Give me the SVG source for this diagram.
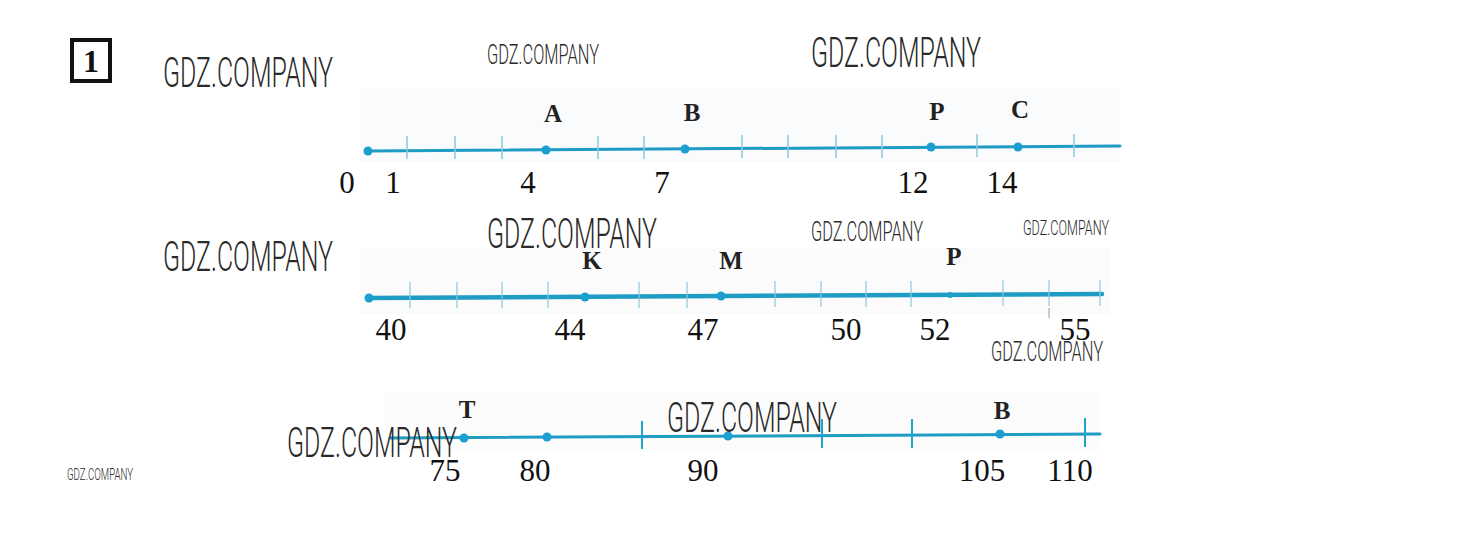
<svg xmlns="http://www.w3.org/2000/svg" width="1460" height="534" viewBox="0 0 1460 534">
<style>
.wm{font-family:Roboto,"Liberation Sans",Arial,sans-serif;fill:#2a2a2a;font-weight:300}
.num{font-family:"Liberation Serif","Times New Roman",serif;font-size:31px;fill:#111;text-anchor:middle}
.lbl{font-family:"Liberation Serif","Times New Roman",serif;font-size:25px;font-weight:bold;fill:#222;text-anchor:middle}
.axis{stroke:#1e9cc4;fill:none;stroke-linecap:round}
.tick{stroke:#8cc9dc;stroke-width:1.5}
.tick3{stroke:#1ea6c8;stroke-width:2}
.dot{fill:#1a9fd0}
</style>
<rect width="1460" height="534" fill="#fff"/>
<g id="title">
<rect x="72" y="40" width="38" height="41" fill="none" stroke="#111" stroke-width="4"/>
<text x="91" y="72" font-family="Liberation Serif,serif" font-size="32" font-weight="bold" text-anchor="middle" fill="#111">1</text>
</g>
<g id="bg">
<rect x="360" y="88" width="760" height="74" fill="#fafbfc"/>
<rect x="360" y="248" width="750" height="66" fill="#fbfbfc"/>
<rect x="385" y="392" width="715" height="60" fill="#fcfcfc"/>
</g>
<g id="connectors">
<path class="axis" d="M368,151 L1120,146" stroke-width="3"/>
<g class="tick">
<line x1="407" y1="136" x2="407" y2="159"/><line x1="455" y1="136" x2="455" y2="159"/><line x1="502" y1="136" x2="502" y2="159"/>
<line x1="598" y1="136" x2="598" y2="159"/><line x1="644" y1="136" x2="644" y2="159"/><line x1="742" y1="135" x2="742" y2="158"/>
<line x1="788" y1="135" x2="788" y2="158"/><line x1="836" y1="135" x2="836" y2="158"/><line x1="882" y1="135" x2="882" y2="158"/>
<line x1="977" y1="134" x2="977" y2="157"/><line x1="1074" y1="134" x2="1074" y2="157"/>
</g>
<path class="axis" d="M369,298 L1102,294" stroke-width="4.5"/>
<g class="tick" stroke-opacity="0.8">
<line x1="410" y1="282" x2="410" y2="308"/><line x1="457" y1="282" x2="457" y2="308"/><line x1="502" y1="282" x2="502" y2="308"/>
<line x1="548" y1="282" x2="548" y2="308"/><line x1="639" y1="282" x2="639" y2="308"/><line x1="687" y1="282" x2="687" y2="308"/>
<line x1="775" y1="281" x2="775" y2="307"/><line x1="821" y1="281" x2="821" y2="307"/><line x1="866" y1="281" x2="866" y2="307"/>
<line x1="911" y1="281" x2="911" y2="307"/><line x1="1003" y1="280" x2="1003" y2="306"/><line x1="1049" y1="280" x2="1049" y2="306"/>
<line x1="1100" y1="280" x2="1100" y2="306"/>
</g>
<line x1="1049" y1="308" x2="1049" y2="318" stroke="#999" stroke-width="1"/>
<path class="axis" d="M390,438 L1100,434" stroke-width="3"/>
<g class="tick3">
<line x1="642" y1="421" x2="642" y2="449"/><line x1="822" y1="419" x2="822" y2="448"/>
<line x1="912" y1="419" x2="912" y2="448"/><line x1="1085" y1="418" x2="1085" y2="447"/>
</g>
</g>
<g id="line1-points">
<circle class="dot" cx="368" cy="151" r="4.5"/><circle class="dot" cx="546" cy="150" r="4.5"/>
<circle class="dot" cx="685" cy="149" r="4.5"/><circle class="dot" cx="931" cy="147" r="4.5"/>
<circle class="dot" cx="1018" cy="147" r="4.5"/>
<text class="lbl" x="553" y="122">A</text><text class="lbl" x="692" y="121">B</text>
<text class="lbl" x="937" y="120" font-weight="normal">P</text><text class="lbl" x="1020" y="118" font-weight="normal">C</text>
<text class="num" x="347" y="193">0</text><text class="num" x="393" y="193">1</text>
<text class="num" x="528" y="193">4</text><text class="num" x="662" y="193">7</text>
<text class="num" x="913" y="193">12</text><text class="num" x="1002" y="193">14</text>
</g>
<g id="line2-points">
<circle class="dot" cx="369" cy="298" r="4.5"/><circle class="dot" cx="585" cy="297" r="4.5"/>
<circle class="dot" cx="721" cy="296" r="4.5"/><circle class="dot" cx="950" cy="295" r="3"/>
<text class="lbl" x="592" y="269">K</text><text class="lbl" x="731" y="269">M</text>
<text class="lbl" x="954" y="265">P</text>
<text class="num" x="391" y="340">40</text><text class="num" x="570" y="340">44</text>
<text class="num" x="703" y="340">47</text><text class="num" x="846" y="340">50</text>
<text class="num" x="935" y="340" fill="#777">52</text><text class="num" x="1075" y="340">55</text>
</g>
<g id="line3-points">
<circle class="dot" cx="464" cy="438" r="4.5"/><circle class="dot" cx="547" cy="437" r="4.5"/>
<circle class="dot" cx="728" cy="436" r="4.5"/><circle class="dot" cx="1000" cy="434" r="4.5"/>
<text class="lbl" x="467" y="418">T</text><text class="lbl" x="1002" y="419">B</text>
<text class="num" x="445" y="481">75</text><text class="num" x="535" y="481">80</text>
<text class="num" x="703" y="481">90</text><text class="num" x="982" y="481">105</text>
<text class="num" x="1070" y="481">110</text>
</g>
<g id="watermarks">
<text class="wm" x="163" y="87" font-size="43" textLength="170" lengthAdjust="spacingAndGlyphs">GDZ.COMPANY</text>
<text class="wm" x="487" y="64" font-size="28" textLength="112" lengthAdjust="spacingAndGlyphs">GDZ.COMPANY</text>
<text class="wm" x="811" y="67" font-size="43" textLength="170" lengthAdjust="spacingAndGlyphs">GDZ.COMPANY</text>
<text class="wm" x="163" y="271" font-size="43" textLength="170" lengthAdjust="spacingAndGlyphs">GDZ.COMPANY</text>
<text class="wm" x="487" y="248" font-size="43" textLength="170" lengthAdjust="spacingAndGlyphs">GDZ.COMPANY</text>
<text class="wm" x="811" y="241" font-size="28" textLength="112" lengthAdjust="spacingAndGlyphs">GDZ.COMPANY</text>
<text class="wm" x="1023" y="235" font-size="21" textLength="86" lengthAdjust="spacingAndGlyphs">GDZ.COMPANY</text>
<text class="wm" x="991" y="361" font-size="28" textLength="112" lengthAdjust="spacingAndGlyphs">GDZ.COMPANY</text>
<text class="wm" x="667" y="432" font-size="43" textLength="170" lengthAdjust="spacingAndGlyphs">GDZ.COMPANY</text>
<text class="wm" x="287" y="457" font-size="43" textLength="170" lengthAdjust="spacingAndGlyphs">GDZ.COMPANY</text>
<text class="wm" x="67" y="480" font-size="17" textLength="66" lengthAdjust="spacingAndGlyphs">GDZ.COMPANY</text>
</g>
</svg>
